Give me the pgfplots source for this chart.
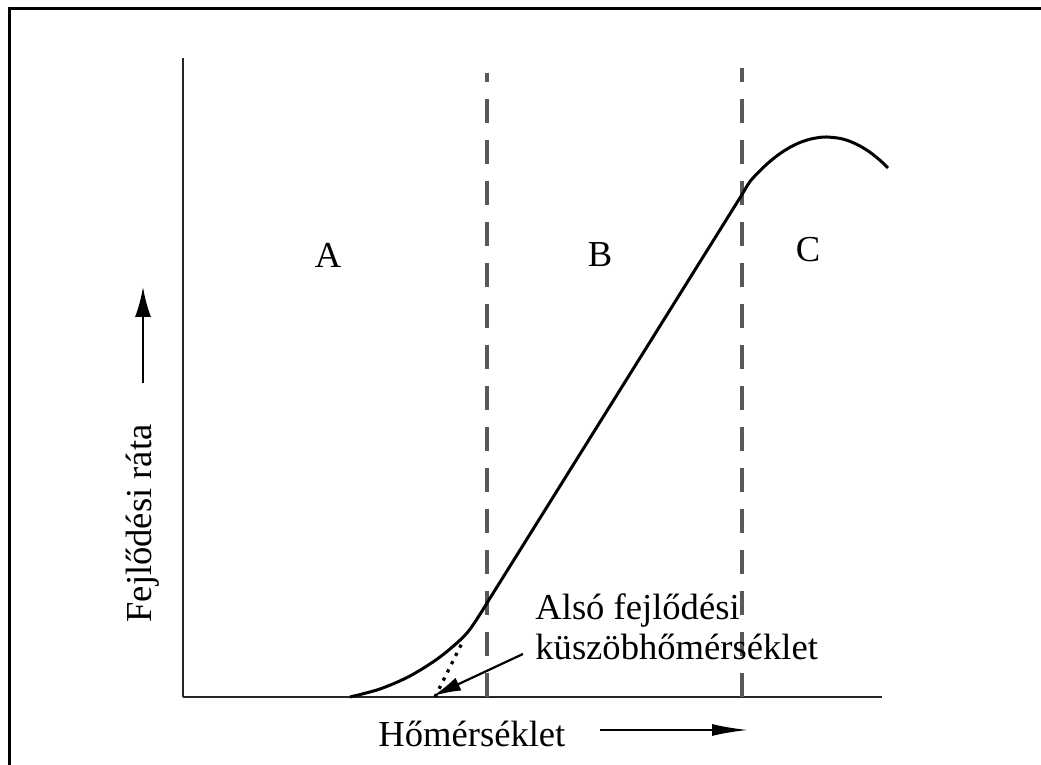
\documentclass[border=0pt]{standalone}
\usepackage{fontspec}
\setmainfont{Liberation Serif}
\usepackage{pgfplots}
\pgfplotsset{compat=1.18}
\usetikzlibrary{arrows.meta}

\newcommand{\lbl}{\fontsize{18.3}{20}\selectfont}

\begin{document}
\begin{tikzpicture}
  % page = 1041 x 765 px, 1 px = 0.5pt
  \useasboundingbox (0,0) rectangle (520.5pt,382.5pt);
  \draw[line width=1.5pt] (4.5pt,-3pt) -- (4.5pt,378pt) -- (530pt,378pt);

  \begin{axis}[
    at={(91.5pt,34pt)},
    anchor=south west,
    scale only axis,
    width=349.5pt,
    height=319.5pt,
    xmin=0, xmax=699,
    ymin=0, ymax=639,
    axis lines*=left,
    axis line style={-, line width=1.4pt, black!85},
    xtick=\empty, ytick=\empty,
    clip=false
  ]
    % zone borders
    \addplot[black!65, line width=2pt, dash pattern=on 12pt off 8.5pt]
      coordinates {(304,0) (304,624)};
    \addplot[black!65, line width=2pt, dash pattern=on 12pt off 8.5pt]
      coordinates {(559,0) (559,629)};

    % development rate curve
    \addplot[black, line width=1.5pt, smooth]
      coordinates {(167,0) (197,8) (227,21) (257,40) (284,64) (304,94)};
    \addplot[black, line width=1.5pt]
      coordinates {(304,94) (560,504)};
    \addplot[black, line width=1.5pt, smooth]
      coordinates {(560,504) (567,515.5) (577,526.3) (587,535.6) (597,543.4)
        (607,549.7) (617,554.5) (627,557.8) (637,559.6) (644,560) (657,558.6)
        (667,555.6) (677,551) (687,544.7) (697,536.7) (705,529.1)};

    % extrapolated threshold
    \addplot[black, line width=1.6pt, dash pattern=on 1.6pt off 3pt]
      coordinates {(252,0) (279,54)};

    \draw[line width=1.1pt, -{Latex[length=14pt,width=7pt]}]
      (axis cs:340,43) -- (axis cs:250,1);

    \node[font=\lbl] at (axis cs:145,442) {A};
    \node[font=\lbl] at (axis cs:417,442) {B};
    \node[font=\lbl] at (axis cs:625,447) {C};

    \node[font=\lbl, anchor=base west, inner sep=0pt] at (axis cs:352,77) {Alsó fejlődési};
    \node[font=\lbl, anchor=base west, inner sep=0pt] at (axis cs:352,37) {küszöbhőmérséklet};

    \node[font=\lbl, anchor=base west, inner sep=0pt] at (axis cs:195,-50) {Hőmérséklet};
    \draw[line width=1.1pt, -{Latex[length=18pt,width=6pt]}]
      (axis cs:417,-33) -- (axis cs:565,-33);

    \node[font=\lbl, anchor=base west, inner sep=0pt, rotate=90] at (axis cs:-31,74) {Fejlődési ráta};
    \draw[line width=1.1pt, -{Latex[length=15pt,width=8pt]}]
      (axis cs:-40,314) -- (axis cs:-40,410);
  \end{axis}
\end{tikzpicture}
\end{document}
